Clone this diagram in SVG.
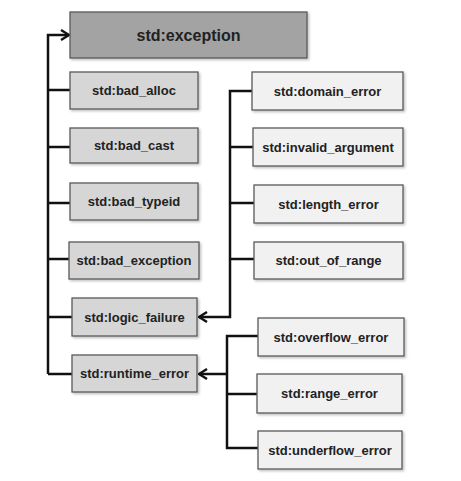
<svg xmlns="http://www.w3.org/2000/svg" width="461" height="481" viewBox="0 0 461 481">
<defs>
<marker id="arr" viewBox="0 0 10 12" refX="9" refY="6" markerWidth="10" markerHeight="12" markerUnits="userSpaceOnUse" orient="auto">
<path d="M1,1 L9,6 L1,11" fill="none" stroke="#111" stroke-width="2.4"/>
</marker>
<filter id="sh" x="-5%" y="-10%" width="115%" height="130%">
<feDropShadow dx="1.5" dy="1.5" stdDeviation="0.8" flood-color="#000" flood-opacity="0.25"/>
</filter>
</defs>
<style>
.b{stroke:#5a5a5a;stroke-width:1.3;filter:url(#sh)}
.top{fill:#a3a3a3}
.mid{fill:#d6d6d6}
.leaf{fill:#f1f1f1}
text{font-family:"Liberation Sans",Arial,sans-serif;font-weight:bold;font-size:13px;fill:#222;text-anchor:middle;dominant-baseline:central}
.c{fill:none;stroke:#111;stroke-width:2.5}
</style>
<rect width="461" height="481" fill="#fff"/>
<g id="connectors">
<path class="c" d="M48,374 V35 H69" marker-end="url(#arr)"/>
<path class="c" d="M48,90 H70 M48,147 H70 M48,203 H70 M48,259 H69 M48,317 H72 M48,374 H72"/>
<path class="c" d="M252,91 H230 V317 H199" marker-end="url(#arr)"/>
<path class="c" d="M230,147 H253 M230,203 H254 M230,259 H254"/>
<path class="c" d="M258,336 H227 V448 H258 M227,394 H257"/>
<path class="c" d="M227,374 H199" marker-end="url(#arr)"/>
</g>
<g id="exception"><rect class="b top" x="70" y="12" width="237" height="46"/><text x="188.5" y="35" style="font-size:16px">std:exception</text></g>
<g id="bad_alloc"><rect class="b mid" x="70" y="72" width="128" height="37"/><text x="134" y="90.5">std:bad_alloc</text></g>
<g id="bad_cast"><rect class="b mid" x="70" y="128" width="128" height="35"/><text x="134" y="145.5">std:bad_cast</text></g>
<g id="bad_typeid"><rect class="b mid" x="70" y="183" width="128" height="37"/><text x="134" y="201.5">std:bad_typeid</text></g>
<g id="bad_exception"><rect class="b mid" x="69" y="242" width="130" height="37"/><text x="134" y="260.5">std:bad_exception</text></g>
<g id="logic_failure"><rect class="b mid" x="72" y="298" width="125" height="38"/><text x="134.5" y="317">std:logic_failure</text></g>
<g id="runtime_error"><rect class="b mid" x="72" y="355" width="125" height="37"/><text x="134.5" y="373.5">std:runtime_error</text></g>
<g id="domain_error"><rect class="b leaf" x="252" y="72" width="151" height="38"/><text x="327.5" y="91">std:domain_error</text></g>
<g id="invalid_argument"><rect class="b leaf" x="253" y="128" width="150" height="38"/><text x="328" y="147">std:invalid_argument</text></g>
<g id="length_error"><rect class="b leaf" x="254" y="185" width="149" height="38"/><text x="328.5" y="204">std:length_error</text></g>
<g id="out_of_range"><rect class="b leaf" x="254" y="242" width="149" height="37"/><text x="328.5" y="260.5">std:out_of_range</text></g>
<g id="overflow_error"><rect class="b leaf" x="258" y="318" width="146" height="38"/><text x="331" y="337">std:overflow_error</text></g>
<g id="range_error"><rect class="b leaf" x="257" y="374" width="145" height="39"/><text x="329.5" y="393.5">std:range_error</text></g>
<g id="underflow_error"><rect class="b leaf" x="258" y="431" width="144" height="38"/><text x="330" y="450">std:underflow_error</text></g>
</svg>
